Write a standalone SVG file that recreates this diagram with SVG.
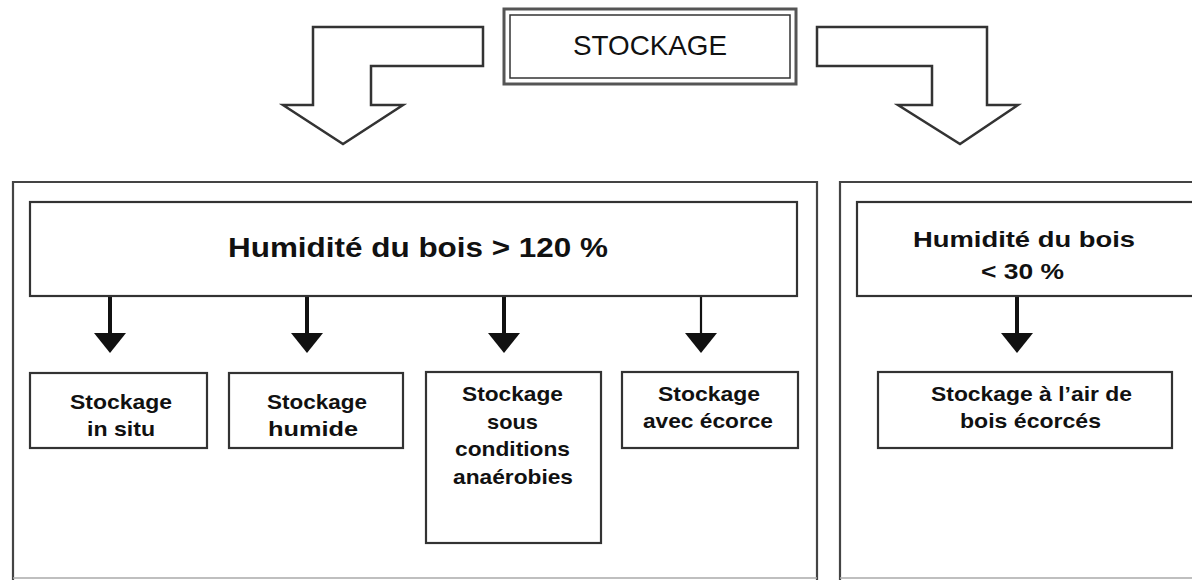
<svg xmlns="http://www.w3.org/2000/svg" width="1192" height="580" viewBox="0 0 1192 580">
<style>
.box{fill:#fff;stroke:#333;stroke-width:2.2}
.frame{fill:none;stroke:#444;stroke-width:2.2}
.foot{stroke:#aaa;stroke-width:1.5}
.big{fill:#fff;stroke:#333;stroke-width:2.5;stroke-linejoin:miter}
.t{font-family:"Liberation Sans",Arial,sans-serif;fill:#111}
.b{font-weight:bold}
.sm{font-size:21px;font-weight:bold}
.conn{stroke:#111;stroke-width:4;fill:none}
.thin{stroke-width:2.2}
</style>
<defs>
<marker id="head" markerUnits="userSpaceOnUse" viewBox="0 -16 20 32" refX="0" refY="0" markerWidth="20" markerHeight="32" orient="auto">
<path d="M0,-16 L20,0 L0,16 Z" fill="#111"/>
</marker>
</defs>
<rect width="1192" height="580" fill="#fff"/>

<g id="connectors">
<path class="big" d="M313,27 L483,27 L483,66 L371,66 L371,105 L403,105 L343,144 L283,105 L313,105 Z"/>
<path class="big" d="M817,27 L987,27 L987,105 L1018,105 L960,144 L898,105 L932,105 L932,66 L817,66 Z"/>
<line class="conn" x1="110" y1="297" x2="110" y2="333" marker-end="url(#head)"/>
<line class="conn" x1="307" y1="297" x2="307" y2="333" marker-end="url(#head)"/>
<line class="conn" x1="504" y1="297" x2="504" y2="333" marker-end="url(#head)"/>
<line class="conn thin" x1="701" y1="297" x2="701" y2="333" marker-end="url(#head)"/>
<line class="conn" x1="1017" y1="297" x2="1017" y2="333" marker-end="url(#head)"/>
</g>

<g id="stockage">
<rect x="504" y="9" width="292" height="75" fill="#fff" stroke="#555" stroke-width="3"/>
<rect x="510" y="15" width="280" height="63" fill="none" stroke="#333" stroke-width="1.5"/>
<text class="t" x="573" y="55" font-size="28" textLength="154" lengthAdjust="spacingAndGlyphs">STOCKAGE</text>
</g>

<g id="groupe-humide">
<path class="frame" d="M13,580 L13,182 L817,182 L817,580"/>
<line class="foot" x1="13" y1="578" x2="817" y2="578"/>
</g>

<g id="humidite-120">
<rect class="box" x="30" y="202" width="767" height="94"/>
<text class="t b" x="228" y="257" font-size="27" textLength="380" lengthAdjust="spacingAndGlyphs">Humidité du bois &gt; 120 %</text>
</g>

<g id="in-situ">
<rect class="box" x="30" y="373" width="177" height="75"/>
<text class="t sm" x="70" y="409" textLength="102" lengthAdjust="spacingAndGlyphs">Stockage</text>
<text class="t sm" x="87" y="436" textLength="68" lengthAdjust="spacingAndGlyphs">in situ</text>
</g>

<g id="humide">
<rect class="box" x="229" y="373" width="174" height="75"/>
<text class="t sm" x="267" y="409" textLength="100" lengthAdjust="spacingAndGlyphs">Stockage</text>
<text class="t sm" x="268" y="436" textLength="90" lengthAdjust="spacingAndGlyphs">humide</text>
</g>

<g id="anaerobies">
<rect class="box" x="426" y="372" width="175" height="171"/>
<text class="t sm" x="462" y="401" textLength="101" lengthAdjust="spacingAndGlyphs">Stockage</text>
<text class="t sm" x="487" y="429" textLength="51" lengthAdjust="spacingAndGlyphs">sous</text>
<text class="t sm" x="455" y="456" textLength="115" lengthAdjust="spacingAndGlyphs">conditions</text>
<text class="t sm" x="453" y="484" textLength="120" lengthAdjust="spacingAndGlyphs">anaérobies</text>
</g>

<g id="ecorce">
<rect class="box" x="622" y="372" width="176" height="76"/>
<text class="t sm" x="658" y="401" textLength="102" lengthAdjust="spacingAndGlyphs">Stockage</text>
<text class="t sm" x="643" y="428" textLength="130" lengthAdjust="spacingAndGlyphs">avec écorce</text>
</g>

<g id="groupe-sec">
<path class="frame" d="M840,580 L840,182 L1194,182"/>
<line class="foot" x1="840" y1="578" x2="1192" y2="578"/>
</g>

<g id="humidite-30">
<rect class="box" x="857" y="202" width="340" height="94"/>
<text class="t b" x="913" y="247" font-size="22" textLength="222" lengthAdjust="spacingAndGlyphs">Humidité du bois</text>
<text class="t b" x="981" y="279" font-size="22" textLength="83" lengthAdjust="spacingAndGlyphs">&lt; 30 %</text>
</g>

<g id="air">
<rect class="box" x="878" y="372" width="294" height="76"/>
<text class="t sm" x="931" y="401" textLength="201" lengthAdjust="spacingAndGlyphs">Stockage à l’air de</text>
<text class="t sm" x="960" y="428" textLength="141" lengthAdjust="spacingAndGlyphs">bois écorcés</text>
</g>
</svg>
